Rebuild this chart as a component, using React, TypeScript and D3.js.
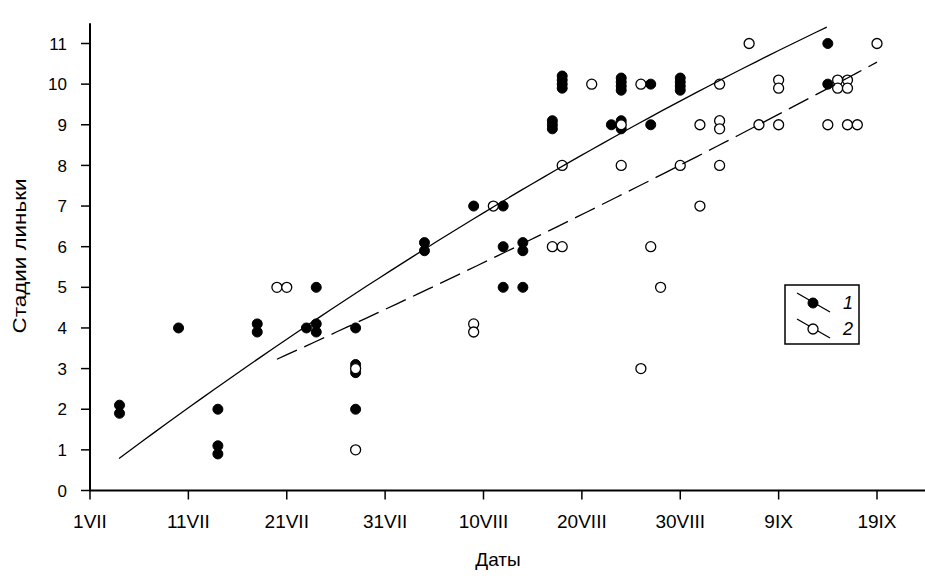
import React from "react";
import * as d3 from "d3";

// Days counted from 1 July (day 0)
const tickDays = [0, 10, 20, 30, 40, 50, 60, 70, 80];
const tickLabels = ["1VII", "11VII", "21VII", "31VII", "10VIII", "20VIII", "30VIII", "9IX", "19IX"];
const yTicks = [0, 1, 2, 3, 4, 5, 6, 7, 8, 9, 10, 11];

// Series 1 (filled circles): [day, stage]
const series1: [number, number][] = [
  [3, 2.1], [3, 1.9],
  [9, 4],
  [13, 2], [13, 1.1], [13, 0.9],
  [17, 4.1], [17, 3.9],
  [22, 4],
  [23, 4.1], [23, 3.9], [23, 5],
  [27, 4], [27, 3.1], [27, 2.9], [27, 2],
  [34, 6.1], [34, 5.9],
  [39, 7],
  [42, 7], [42, 6], [42, 5],
  [44, 6.1], [44, 5.9], [44, 5],
  [47, 9.1], [47, 9], [47, 8.9],
  [48, 10.2], [48, 10.1], [48, 10], [48, 9.9],
  [53, 9],
  [54, 10.15], [54, 10.05], [54, 9.95], [54, 9.85], [54, 9.1], [54, 8.9],
  [57, 10], [57, 9],
  [60, 10.15], [60, 10.05], [60, 9.95], [60, 9.85],
  [75, 11], [75, 10],
];

// Series 2 (open circles): [day, stage]
const series2: [number, number][] = [
  [19, 5], [20, 5],
  [27, 3.0], [27, 1],
  [39, 4.1], [39, 3.9],
  [41, 7],
  [47, 6],
  [48, 8], [48, 6],
  [51, 10],
  [54, 9.0], [54, 8],
  [56, 10], [56, 3],
  [57, 6],
  [58, 5],
  [60, 8],
  [62, 9], [62, 7],
  [64, 10], [64, 9.1], [64, 8.9], [64, 8],
  [67, 11],
  [68, 9],
  [70, 10.1], [70, 9.9], [70, 9],
  [75, 9],
  [76, 10.1], [76, 9.9],
  [77, 10.1], [77, 9.9], [77, 9],
  [78, 9],
  [80, 11],
];

// Trend lines (2nd order polynomial): coefficients [a, b, c] and day range
const trend1Coef = [0.256, 0.1823, -0.000447];
const trend1Range = [2.95, 74.9];
const trend2Coef = [1.204, 0.1035, 0.000165];
const trend2Range = [19, 80];

const legendLabels = ["1", "2"];

const FONT = "'Liberation Sans', Arial, sans-serif";

export default function App() {
  const x = d3.scaleLinear().domain([0, 80]).range([90, 877]);
  const y = d3.scaleLinear().domain([0, 11]).range([490.5, 43.5]);

  const trendPts = (coef: number[], range: number[]) =>
    d3.range(range[0], range[1] + 0.001, (range[1] - range[0]) / 60).map(
      (d) => [d, coef[0] + coef[1] * d + coef[2] * d * d] as [number, number]
    );
  const line = d3
    .line<[number, number]>()
    .x((d) => x(d[0]))
    .y((d) => y(d[1]));

  const x0 = x(0);
  const y0 = y(0);
  const r = 5;

  return (
    <svg
      width={925}
      height={581}
      style={{ position: "absolute", left: 0, top: 0, background: "#fff" }}
      fontFamily={FONT}
    >
      <rect x={0} y={0} width={925} height={581} fill="#fff" />
      {/* markers series 1 */}
      {series1.map((d, i) => (
        <circle key={"a" + i} cx={x(d[0])} cy={y(d[1])} r={r} fill="#000" stroke="#000" strokeWidth={1} />
      ))}
      {/* markers series 2 */}
      {series2.map((d, i) => (
        <circle key={"b" + i} cx={x(d[0])} cy={y(d[1])} r={r} fill="#fff" stroke="#000" strokeWidth={1.3} />
      ))}
      {/* trend lines */}
      <path d={line(trendPts(trend1Coef, trend1Range)) || ""} fill="none" stroke="#000" strokeWidth={1.3} />
      <path
        d={line(trendPts(trend2Coef, trend2Range)) || ""}
        fill="none"
        stroke="#000"
        strokeWidth={1.3}
        strokeDasharray="22 8"
      />
      {/* axes */}
      <line x1={x0} x2={x0} y1={y(11.5)} y2={y0} stroke="#000" strokeWidth={2} />
      <line x1={x0 - 1} x2={925} y1={y0} y2={y0} stroke="#000" strokeWidth={2} />
      {yTicks.map((t) => (
        <g key={"yt" + t}>
          <line x1={x0 - 9} x2={x0} y1={y(t)} y2={y(t)} stroke="#000" strokeWidth={1.5} />
          <text x={67} y={y(t)} dy="0.36em" textAnchor="end" fontSize={17} fill="#000">
            {t}
          </text>
        </g>
      ))}
      {tickDays.map((t, i) => (
        <g key={"xt" + t}>
          <line x1={x(t)} x2={x(t)} y1={y0} y2={y0 + 9} stroke="#000" strokeWidth={1.5} />
          <text x={x(t)} y={528} textAnchor="middle" fontSize={19} fill="#000">
            {tickLabels[i]}
          </text>
        </g>
      ))}
      {/* axis titles */}
      <text x={498} y={566} textAnchor="middle" fontSize={19} fill="#000">
        Даты
      </text>
      <text
        transform="translate(26,256) rotate(-90)"
        textAnchor="middle"
        fontSize={19}
        fill="#000"
        textLength={155}
        lengthAdjust="spacingAndGlyphs"
      >
        Стадии линьки
      </text>
      {/* legend */}
      <rect x={785} y={285} width={74} height={59} fill="#fff" stroke="#000" strokeWidth={1.5} />
      {legendLabels.map((lab, i) => {
        const cy = 303 + i * 26;
        return (
          <g key={"lg" + i}>
            <line x1={797} x2={830} y1={cy - 10} y2={cy + 9} stroke="#000" strokeWidth={1.3} />
            <circle
              cx={813}
              cy={cy}
              r={r}
              fill={i === 0 ? "#000" : "#fff"}
              stroke="#000"
              strokeWidth={i === 0 ? 1 : 1.3}
            />
            <text x={848} y={cy} dy="0.36em" textAnchor="middle" fontSize={18} fontStyle="italic" fill="#000">
              {lab}
            </text>
          </g>
        );
      })}
    </svg>
  );
}
